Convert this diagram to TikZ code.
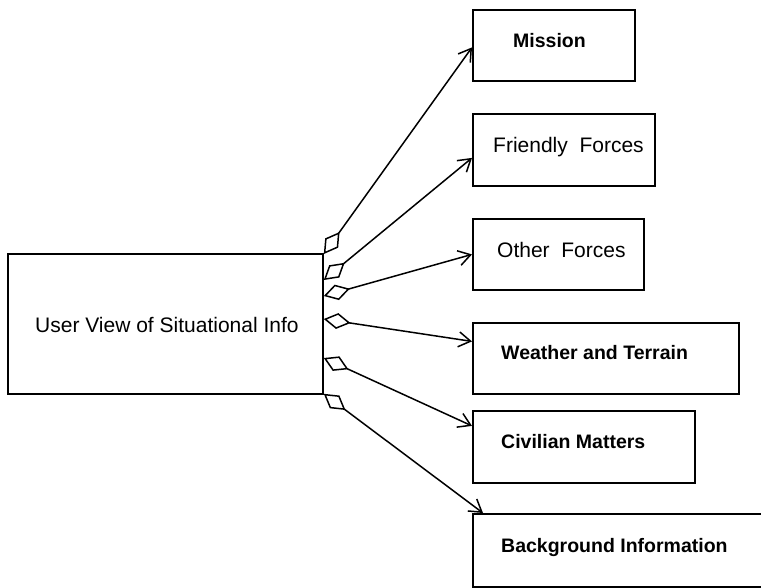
\documentclass[tikz,border=0pt]{standalone}
\usepackage{fontspec}
\setmainfont{Liberation Sans}
\usetikzlibrary{arrows.meta}
\begin{document}
\begin{tikzpicture}[x=1pt,y=-1pt,
  box/.style={draw, line width=1.8pt, rectangle, anchor=north west, inner sep=0pt},
  lbl/.style={anchor=base west, inner sep=0pt, font=\fontsize{21}{25}\selectfont},
  blbl/.style={anchor=base west, inner sep=0pt, font=\fontsize{19.5}{23}\selectfont\bfseries},
  part/.style={line width=1.5pt,
    {Diamond[open,length=27pt,width=16pt]}-{Straight Barb[length=12pt,width=15pt]}}]
  \clip (0,0) rectangle (761,587);

  % boxes
  \node[box, minimum width=315pt, minimum height=140pt] (user) at (7,253) {};
  \node[box, minimum width=162pt, minimum height=71pt] (mission) at (472,9) {};
  \node[box, minimum width=182pt, minimum height=72pt] (friendly) at (472,113) {};
  \node[box, minimum width=171pt, minimum height=71pt] (other) at (472,218) {};
  \node[box, minimum width=266pt, minimum height=71pt] (weather) at (472,322) {};
  \node[box, minimum width=222pt, minimum height=72pt] (civilian) at (472,410) {};
  \node[box, minimum width=328pt, minimum height=73pt] (background) at (472,513) {};

  % labels
  \node[lbl] (userT) at (35,332) {User View of Situational Info};
  \node[blbl] (missionT) at (513,47) {Mission};
  \node[lbl] (friendlyT) at (493,152) {Friendly\ \ Forces};
  \node[lbl] (otherT) at (497,257) {Other\ \ Forces};
  \node[blbl] (weatherT) at (501,359) {Weather and Terrain};
  \node[blbl] (civilianT) at (501,448) {Civilian Matters};
  \node[blbl] (backgroundT) at (501,552) {Background Information};

  % attachment points on the aggregate's right edge
  \coordinate (s1) at ([yshift=-1pt]user.north east);
  \coordinate (s2) at ([yshift=-27pt]user.north east);
  \coordinate (s3) at ([yshift=-43pt]user.north east);
  \coordinate (s4) at ([yshift=-66pt]user.north east);
  \coordinate (s5) at ([yshift=-105pt]user.north east);
  \coordinate (s6) at ([yshift=1pt]user.south east);

  % aggregation connectors
  \draw[part] (s1) -- ([yshift=-2pt]mission.west);
  \draw[part] (s2) -- ([yshift=-8pt]friendly.west);
  \draw[part] (s3) -- (other.west);
  \draw[part] (s4) -- ([yshift=17pt]weather.west);
  \draw[part] (s5) -- ([yshift=21pt]civilian.west);
  \draw[part] (s6) -- ([xshift=11pt]background.north west);
\end{tikzpicture}
\end{document}
